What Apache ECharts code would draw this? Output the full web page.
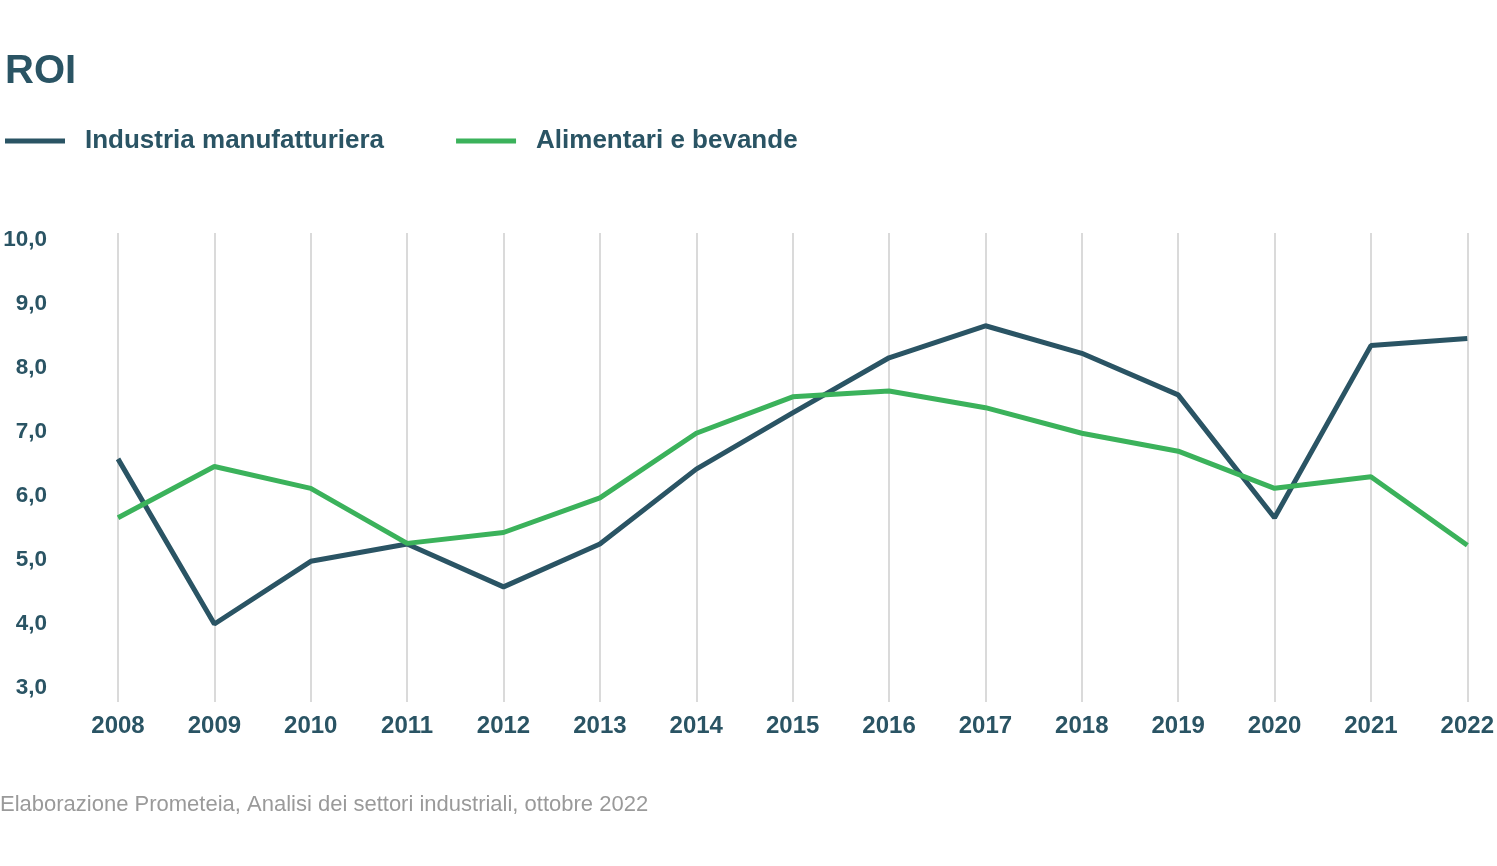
<!DOCTYPE html>
<html>
<head>
<meta charset="utf-8">
<script src="https://cdn.jsdelivr.net/npm/echarts@6/dist/echarts.min.js"></script>
<style>
html,body{margin:0;padding:0;background:#fff;}
#chart{width:1497px;height:866px;}
</style>
</head>
<body>
<div id="chart"></div>
<script>
const years = ['2008','2009','2010','2011','2012','2013','2014','2015','2016','2017','2018','2019','2020','2021','2022'];
const industria = [6.58, 4.0, 4.98, 5.25, 4.58, 5.25, 6.42, 7.30, 8.16, 8.66, 8.23, 7.58, 5.66, 8.35, 8.46];
const alimentari = [5.66, 6.46, 6.12, 5.26, 5.43, 5.97, 6.98, 7.55, 7.64, 7.38, 6.98, 6.70, 6.12, 6.30, 5.23];
const yTicks = [3, 4, 5, 6, 7, 8, 9, 10];

const DARK = '#2a5464';
const GREEN = '#3bb25b';
const FONT = '"Liberation Sans", Arial, sans-serif';

const chart = echarts.init(document.getElementById('chart'));
chart.setOption({
  animation: false,
  textStyle: { fontFamily: FONT },
  title: {
    text: 'ROI',
    left: 5,
    top: 52,
    padding: 0,
    textStyle: { fontSize: 40, fontWeight: 'bold', color: DARK, fontFamily: FONT }
  },
  legend: {
    left: 5,
    top: 128,
    padding: 0,
    icon: 'rect',
    itemWidth: 60,
    itemHeight: 5,
    itemGap: 72,
    textStyle: { fontSize: 26, fontWeight: 'bold', color: DARK, fontFamily: FONT, padding: [0, 0, 0, 15] },
    data: ['Industria manufatturiera', 'Alimentari e bevande']
  },
  graphic: [{
    type: 'text',
    left: 0,
    top: 794,
    style: { text: 'Elaborazione Prometeia, Analisi dei settori industriali, ottobre 2022', fill: '#9a9a9a', fontSize: 22, fontFamily: FONT }
  }],
  grid: { left: 118, right: 27, top: 233, bottom: 164 },
  xAxis: {
    type: 'category',
    data: years,
    boundaryGap: false,
    axisLine: { show: false },
    axisTick: { show: false },
    axisLabel: { margin: 12, fontSize: 24, fontWeight: 'bold', color: DARK, fontFamily: FONT },
    splitLine: { show: true, lineStyle: { color: '#dadada', width: 2 } }
  },
  yAxis: {
    type: 'value',
    min: 3 - 14 / 64,
    max: 10 + 7 / 64,
    axisLine: { show: false },
    axisTick: { show: false },
    splitLine: { show: false },
    axisLabel: {
      customValues: yTicks,
      margin: 71,
      fontSize: 22.5,
      fontWeight: 'bold',
      color: DARK,
      fontFamily: FONT,
      padding: [4, 0, 0, 0],
      formatter: v => v.toFixed(1).replace('.', ',')
    }
  },
  series: [
    {
      name: 'Industria manufatturiera',
      type: 'line',
      data: industria,
      symbol: 'none',
      color: DARK,
      lineStyle: { width: 5, color: DARK }
    },
    {
      name: 'Alimentari e bevande',
      type: 'line',
      data: alimentari,
      symbol: 'none',
      color: GREEN,
      lineStyle: { width: 5, color: GREEN }
    }
  ]
});
</script>
</body>
</html>
